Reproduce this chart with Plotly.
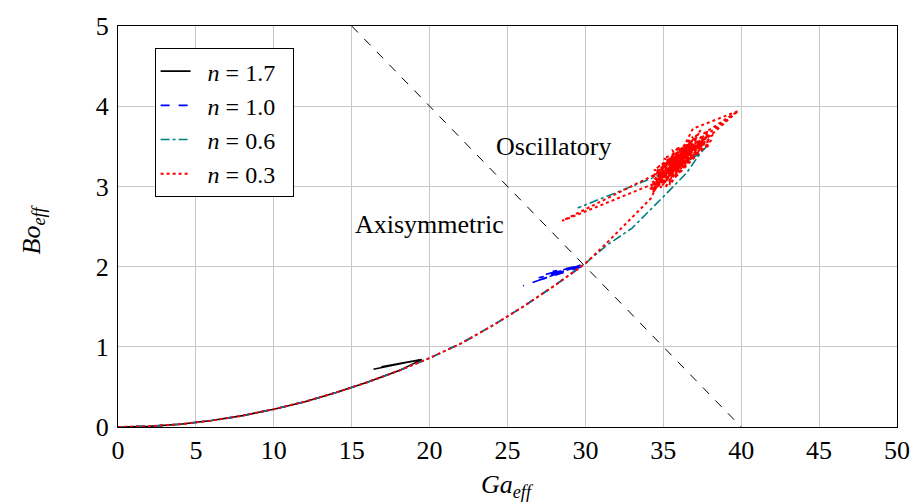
import plotly.graph_objects as go

# n = 1.7: rises to Ga ~ 19.5 then settles back
n17_ga = [0, 2, 4, 6, 8, 10, 12, 14, 16, 18, 19.5, 16.9, 19.4, 17.3, 19.3, 16.4]
n17_bo = [0, 0.009, 0.035, 0.08, 0.142, 0.222, 0.316, 0.43, 0.558, 0.70, 0.84,
          0.75, 0.845, 0.77, 0.835, 0.72]

# n = 1.0: rises to Ga ~ 29.8 then settles back
n10_ga = [0, 2, 4, 6, 8, 10, 12, 14, 16, 18, 20, 22, 24, 26, 28, 29.8,
          27.0, 29.8, 27.4, 29.7, 26.7, 29.8, 27.9, 29.6, 26.0]
n10_bo = [0, 0.009, 0.035, 0.08, 0.142, 0.222, 0.316, 0.43, 0.558, 0.70, 0.86, 1.04,
          1.26, 1.50, 1.76, 2.01,
          1.86, 2.01, 1.90, 2.02, 1.81, 2.00, 1.94, 2.01, 1.76]

# n = 0.6: continues up the branch, then returns along the upper line
n06_ga = [0, 2, 4, 6, 8, 10, 12, 14, 16, 18, 20, 22, 24, 26, 28, 30, 31.4, 33, 35,
          36.5, 37.4, 37.8, 36.4, 37.3, 34.5, 29.5]
n06_bo = [0, 0.009, 0.035, 0.08, 0.142, 0.222, 0.316, 0.43, 0.558, 0.70, 0.86, 1.04,
          1.26, 1.50, 1.76, 2.04, 2.27, 2.48, 2.87, 3.17, 3.42, 3.50, 3.30, 3.40, 3.12, 2.73]

# n = 0.3: continues up the branch, then oscillates strongly
n03_ga = [0, 2, 4, 6, 8, 10, 12, 14, 16, 18, 20, 22, 24, 26, 28, 30, 31.4, 32.5, 34.2,
          35.2, 34.3, 36.5, 34.6, 35.0, 28.5, 34.6, 36.0,
          34.3, 36.8, 35.1, 37.9, 35.6, 34.2, 36.9, 35.0, 37.5, 34.6, 36.2, 35.8,
          38.1, 35.3, 36.5, 34.4, 37.2, 35.9, 36.8, 34.8, 37.6, 39.8, 36.9, 35.4,
          36.0, 34.1, 36.6, 35.2, 37.3, 34.9, 38.3, 39.8, 37.5, 36.1, 35.5, 37.0,
          34.5, 36.4, 35.7, 37.7, 34.7, 36.3, 35.1, 37.4, 35.9, 36.7, 34.3, 36.0,
          35.4, 37.8, 35.0, 36.9, 34.6, 36.2, 35.6, 38.0, 35.3,
          34.4, 37.1, 35.2, 36.6, 34.8, 37.9, 36.0, 35.0, 37.3, 34.2, 36.5, 35.7,
          38.2, 35.8, 36.8, 34.7, 37.0, 35.5, 36.3, 34.9, 37.6, 36.1, 35.3, 36.9, 35.9]
n03_bo = [0, 0.009, 0.035, 0.08, 0.142, 0.222, 0.316, 0.43, 0.558, 0.70, 0.86, 1.04,
          1.26, 1.50, 1.76, 2.04, 2.30, 2.52, 2.85,
          3.25, 2.95, 3.42, 3.20, 3.20, 2.57, 3.05, 3.30,
          2.92, 3.55, 3.05, 3.70, 3.18, 3.12, 3.36, 3.28, 3.48, 3.00, 3.48, 3.12,
          3.58, 3.30, 3.25, 3.20, 3.62, 3.20, 3.50, 2.98, 3.66, 3.94, 3.72, 3.14,
          3.42, 2.95, 3.40, 3.32, 3.42, 3.22, 3.68, 3.94, 3.60, 3.24, 3.40, 3.38,
          3.08, 3.52, 3.22, 3.56, 3.25, 3.30, 2.98, 3.70, 3.35, 3.30, 3.05, 3.50,
          3.02, 3.62, 3.15, 3.62, 3.18, 3.20, 3.45, 3.52, 3.18,
          3.15, 3.55, 3.10, 3.52, 3.10, 3.64, 3.28, 3.35, 3.52, 3.00, 3.45, 3.12,
          3.65, 3.40, 3.36, 3.02, 3.60, 3.30, 3.38, 3.12, 3.58, 3.35, 3.22, 3.48, 3.26]

# Regime boundary
boundary_ga = [15, 40]
boundary_bo = [5, 0]

PAD = "&nbsp;&nbsp;"
series = [
    (PAD + "<i>n</i>&nbsp;=&nbsp;1.7" + PAD, n17_ga, n17_bo, "black", "solid", 1.6),
    (PAD + "<i>n</i>&nbsp;=&nbsp;1.0" + PAD, n10_ga, n10_bo, "blue", "dash", 1.6),
    (PAD + "<i>n</i>&nbsp;=&nbsp;0.6" + PAD, n06_ga, n06_bo, "rgb(0,128,128)", "dashdot", 1.6),
    (PAD + "<i>n</i>&nbsp;=&nbsp;0.3" + PAD, n03_ga, n03_bo, "red", "dot", 2.0),
]

FONT = "Liberation Serif, DejaVu Serif, serif"
FS = 26

fig = go.Figure()
fig.add_trace(go.Scatter(x=boundary_ga, y=boundary_bo, mode="lines",
                         line=dict(color="black", width=1, dash="dash"),
                         showlegend=False, hoverinfo="skip"))
for name, gx, by, col, dash, w in series:
    fig.add_trace(go.Scatter(x=gx, y=by, mode="lines", name=name,
                             line=dict(color=col, width=w, dash=dash)))

axis_common = dict(showgrid=True, gridcolor="#c8c8c8", gridwidth=1,
                   showline=True, linecolor="black", linewidth=1, mirror=True,
                   zeroline=False, ticks="",
                   tickfont=dict(family=FONT, size=FS, color="black"))

fig.update_xaxes(range=[0, 50], tickvals=list(range(0, 51, 5)), **axis_common)
fig.update_yaxes(range=[0, 5], tickvals=list(range(0, 6)), ticklabelstandoff=3, **axis_common)

fig.update_layout(
    width=922, height=504,
    margin=dict(l=118, r=16, t=17, b=77),
    paper_bgcolor="white", plot_bgcolor="white",
    font=dict(family=FONT, size=FS, color="black"),
    legend=dict(x=0.047, y=0.945, xanchor="left", yanchor="top",
                bgcolor="white", bordercolor="black", borderwidth=1,
                font=dict(family=FONT, size=24), tracegroupgap=0),
    annotations=[
        dict(text="Oscillatory", x=28.0, y=3.5, xref="x", yref="y",
             showarrow=False, font=dict(family=FONT, size=FS)),
        dict(text="Axisymmetric", x=20.0, y=2.52, xref="x", yref="y",
             showarrow=False, font=dict(family=FONT, size=FS)),
        dict(text="<i>Ga</i><sub><i>eff</i></sub>", x=0.5, y=-0.146,
             xref="paper", yref="paper", showarrow=False,
             xanchor="center", yanchor="middle", font=dict(family=FONT, size=FS)),
        dict(text="<i>Bo</i><sub><i>eff</i></sub>", x=-0.109, y=0.493,
             xref="paper", yref="paper", showarrow=False, textangle=-90,
             xanchor="center", yanchor="middle", font=dict(family=FONT, size=FS)),
    ],
)

fig.write_html("out.html")
